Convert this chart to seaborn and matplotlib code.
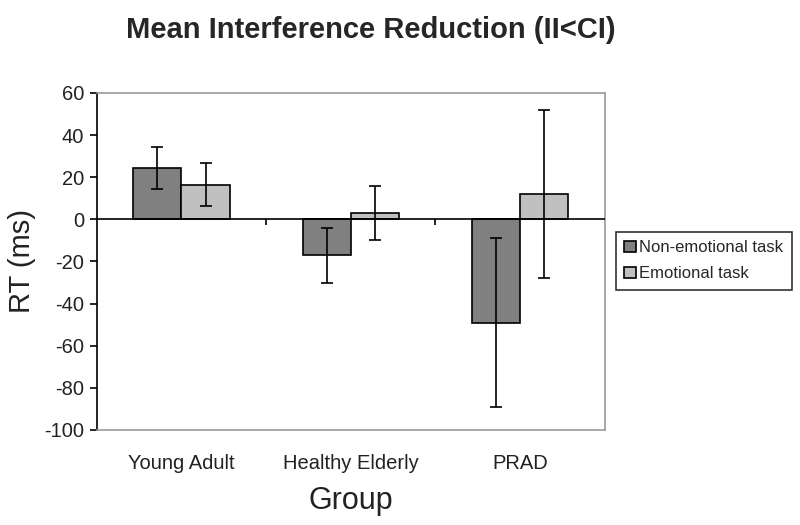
import matplotlib
matplotlib.use("Agg")
import matplotlib.pyplot as plt
import pandas as pd
import seaborn as sns

groups = ["Young Adult", "Healthy Elderly", "PRAD"]
tasks = ["Non-emotional task", "Emotional task"]
non_emotional = [24.5, -17.0, -49.0]
emotional = [16.5, 3.0, 12.0]
non_emotional_err = [10.0, 13.0, 40.0]
emotional_err = [10.0, 13.0, 40.0]
y_ticks = list(range(-100, 61, 20))

df = pd.DataFrame({
    "Group": groups * 2,
    "Task": [tasks[0]] * 3 + [tasks[1]] * 3,
    "RT": non_emotional + emotional,
    "err": non_emotional_err + emotional_err,
})

sns.set_style("white")
plt.rcParams["font.family"] = ["Liberation Sans", "DejaVu Sans"]

fig = plt.figure(figsize=(8, 5.25), dpi=100)
ax = fig.add_axes([0.121, 0.181, 0.635, 0.642])

sns.barplot(
    data=df, x="Group", y="RT", hue="Task", order=groups, hue_order=tasks,
    palette=["#808080", "#c0c0c0"], edgecolor="black", linewidth=1.2,
    width=0.57, errorbar=None, ax=ax,
)

# error bars centred on the drawn bars
for container, task in zip(ax.containers, tasks):
    sub = df[df["Task"] == task].set_index("Group").loc[groups]
    xs = [p.get_x() + p.get_width() / 2 for p in container.patches]
    ax.errorbar(xs, sub["RT"], yerr=sub["err"], fmt="none", ecolor="black",
                elinewidth=1.2, capsize=4, capthick=1.2, zorder=5)

ax.axhline(0, color="black", lw=1.2, zorder=4)
ax.vlines([0.5, 1.5], -2.5, 0, color="black", lw=1.2, zorder=4)

ax.set_xlim(-0.5, 2.5)
ax.set_ylim(-100, 60)
ax.set_yticks(y_ticks)
ax.set_yticklabels([str(t) for t in y_ticks], fontsize=14.5, color="#222222")
ax.tick_params(axis="y", direction="out", length=5, width=1.2, color="black",
               left=True, pad=4)
ax.tick_params(axis="x", length=0, labelsize=14.5, pad=17, labelcolor="#222222")

for side in ["top", "right", "bottom"]:
    ax.spines[side].set_color("#999999")
    ax.spines[side].set_linewidth(1.2)
ax.spines["left"].set_color("black")
ax.spines["left"].set_linewidth(1.2)

ax.set_xlabel("Group", fontsize=22, labelpad=10, color="#222222")
ax.set_ylabel("RT (ms)", fontsize=21, labelpad=6, color="#222222")
fig.suptitle("Mean Interference Reduction (II<CI)", fontsize=21, fontweight="bold",
             x=0.464, y=0.97)

leg = ax.legend(loc="upper left", bbox_to_anchor=(1.022, 0.587), frameon=True,
                fancybox=False, edgecolor="black", fontsize=12,
                handlelength=0.7, handleheight=0.7, handletextpad=0.2,
                borderpad=0.5, labelspacing=0.65, borderaxespad=0)
leg.get_frame().set_linewidth(1.2)

fig.savefig("out.png", dpi=100)
